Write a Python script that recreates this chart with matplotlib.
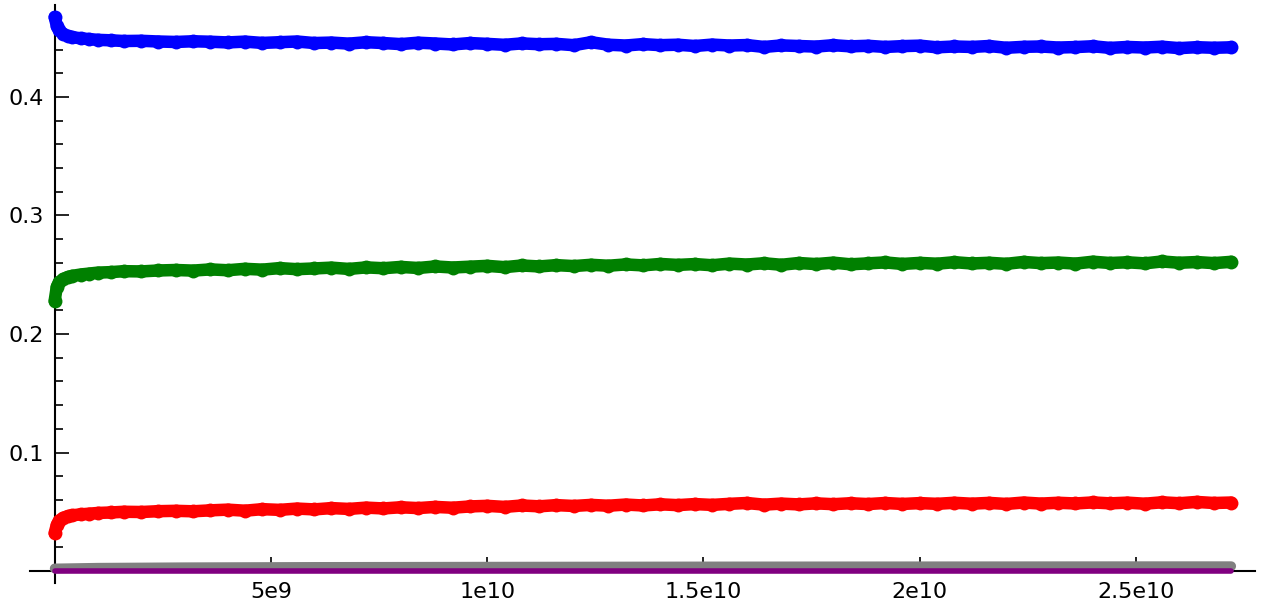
import matplotlib
matplotlib.use("Agg")
import matplotlib.pyplot as plt
from matplotlib.ticker import FixedLocator, MultipleLocator

# sample times in units of 1e8
t_main = [0, 0.5, 1, 2, 3, 4, 6, 8, 10, 13, 16, 20, 24, 28, 32,
          36, 40, 44, 48, 52, 56, 60, 64, 68, 72, 76, 80, 84, 88, 92, 96,
          100, 104, 108, 112, 116, 120, 124, 128, 132, 136, 140, 144, 148, 152, 156,
          160, 164, 168, 172, 176, 180, 184, 188, 192, 196,
          200, 204, 208, 212, 216, 220, 224, 228, 232, 236, 240, 244, 248, 252, 256,
          260, 264, 268, 272]

blue = [0.4675, 0.4600, 0.4565, 0.4530, 0.4515, 0.4505, 0.4495, 0.4488, 0.4482, 0.4478,
        0.4472, 0.4474, 0.4468, 0.4464, 0.4470,
        0.4466, 0.4460, 0.4467, 0.4456, 0.4462, 0.4468, 0.4455, 0.4459, 0.4450, 0.4462,
        0.4455, 0.4446, 0.4458, 0.4451, 0.4443, 0.4455,
        0.4448, 0.4440, 0.4452, 0.4445, 0.4448, 0.4437, 0.4462, 0.4441, 0.4434, 0.4446,
        0.4437, 0.4441, 0.4430, 0.4442, 0.4434,
        0.4438, 0.4422, 0.4435, 0.4430, 0.4425, 0.4437, 0.4427, 0.4432, 0.4422, 0.4429,
        0.4433, 0.4419, 0.4426, 0.4422, 0.4430, 0.4415, 0.4423, 0.4426, 0.4417, 0.4421,
        0.4428, 0.4414, 0.4422, 0.4417, 0.4424,
        0.4412, 0.4420, 0.4415, 0.4419]

green = [0.228, 0.240, 0.2435, 0.2465, 0.2480, 0.2490, 0.2502, 0.2510, 0.2518, 0.2522,
         0.2530, 0.2528, 0.2536, 0.2540, 0.2535,
         0.2545, 0.2538, 0.2550, 0.2543, 0.2556, 0.2547, 0.2553, 0.2560, 0.2549, 0.2562,
         0.2555, 0.2566, 0.2557, 0.2570, 0.2561, 0.2568,
         0.2575, 0.2564, 0.2578, 0.2570, 0.2581, 0.2573, 0.2584, 0.2576, 0.2587, 0.2579,
         0.2591, 0.2583, 0.2590, 0.2580, 0.2594,
         0.2586, 0.2597, 0.2584, 0.2599, 0.2590, 0.2602, 0.2588, 0.2596, 0.2604, 0.2591,
         0.2600, 0.2593, 0.2606, 0.2595, 0.2601, 0.2592, 0.2608, 0.2598, 0.2603, 0.2594,
         0.2610, 0.2599, 0.2605, 0.2596, 0.2612,
         0.2601, 0.2607, 0.2598, 0.2609]

red = [0.032, 0.039, 0.0425, 0.0450, 0.0462, 0.0470, 0.0478, 0.0484, 0.0490, 0.0494,
       0.0500, 0.0498, 0.0505, 0.0508, 0.0504,
       0.0512, 0.0518, 0.0509, 0.0522, 0.0516, 0.0527, 0.0520, 0.0531, 0.0524, 0.0535,
       0.0528, 0.0538, 0.0531, 0.0541, 0.0534, 0.0545,
       0.0550, 0.0541, 0.0553, 0.0546, 0.0556, 0.0549, 0.0558, 0.0551, 0.0561, 0.0553,
       0.0563, 0.0556, 0.0565, 0.0558, 0.0567,
       0.0574, 0.0560, 0.0569, 0.0562, 0.0571, 0.0564, 0.0572, 0.0565, 0.0574, 0.0566,
       0.0573, 0.0567, 0.0576, 0.0568, 0.0575, 0.0566, 0.0578, 0.0569, 0.0576, 0.0570,
       0.0579, 0.0571, 0.0577, 0.0568, 0.0580,
       0.0572, 0.0583, 0.0574, 0.0578]

t_small = [0, 10, 30, 60, 100, 150, 200, 250, 272]
gray = [0.0022, 0.0028, 0.0032, 0.0035, 0.0037, 0.0039, 0.0040, 0.0041, 0.0041]
purple = [0.0, 0.0, 0.0, 0.0, 0.0, 0.0, 0.0, 0.0, 0.0]

x_main = [t * 1e8 for t in t_main]
x_small = [t * 1e8 for t in t_small]

fig = plt.figure(figsize=(12.61, 6.04), dpi=100)
ax = fig.add_axes([30 / 1261, 21 / 604, 1225 / 1261, 578 / 604])

for ys, c in [(blue, "#0000ff"), (green, "#008000"), (red, "#ff0000")]:
    ax.plot(x_main, ys, color=c, lw=9, marker="o", ms=10, mew=0,
            solid_capstyle="round", solid_joinstyle="round", zorder=3)
ax.plot(x_small, gray, color="#808080", lw=7, solid_capstyle="round", zorder=3)
ax.plot(x_small, purple, color="#800080", lw=4, solid_capstyle="round", zorder=4)

ax.set_xlim(-5.7e8, 2.775e10)
ax.set_ylim(-0.0101, 0.4776)

for s in ["top", "right"]:
    ax.spines[s].set_visible(False)
ax.spines["left"].set_position(("data", 0))
ax.spines["bottom"].set_position(("data", 0))
ax.spines["left"].set_linewidth(1.5)
ax.spines["bottom"].set_linewidth(1.5)

xticks = [5e9, 1e10, 1.5e10, 2e10, 2.5e10]
xlabels = ["5e9", "1e10", "1.5e10", "2e10", "2.5e10"]
yticks = [0.1, 0.2, 0.3, 0.4]
ylabels = ["0.1", "0.2", "0.3", "0.4"]
ax.xaxis.set_major_locator(FixedLocator(xticks))
ax.set_xticklabels(xlabels)
ax.yaxis.set_major_locator(FixedLocator(yticks))
ax.set_yticklabels(ylabels)
ax.xaxis.set_minor_locator(MultipleLocator(1e9))
ax.yaxis.set_minor_locator(MultipleLocator(0.02))

ax.tick_params(which="both", direction="in", width=1.2, labelsize=16, pad=8)
ax.tick_params(which="major", length=10)
ax.tick_params(which="minor", length=6)

fig.savefig("out.png", dpi=100)
